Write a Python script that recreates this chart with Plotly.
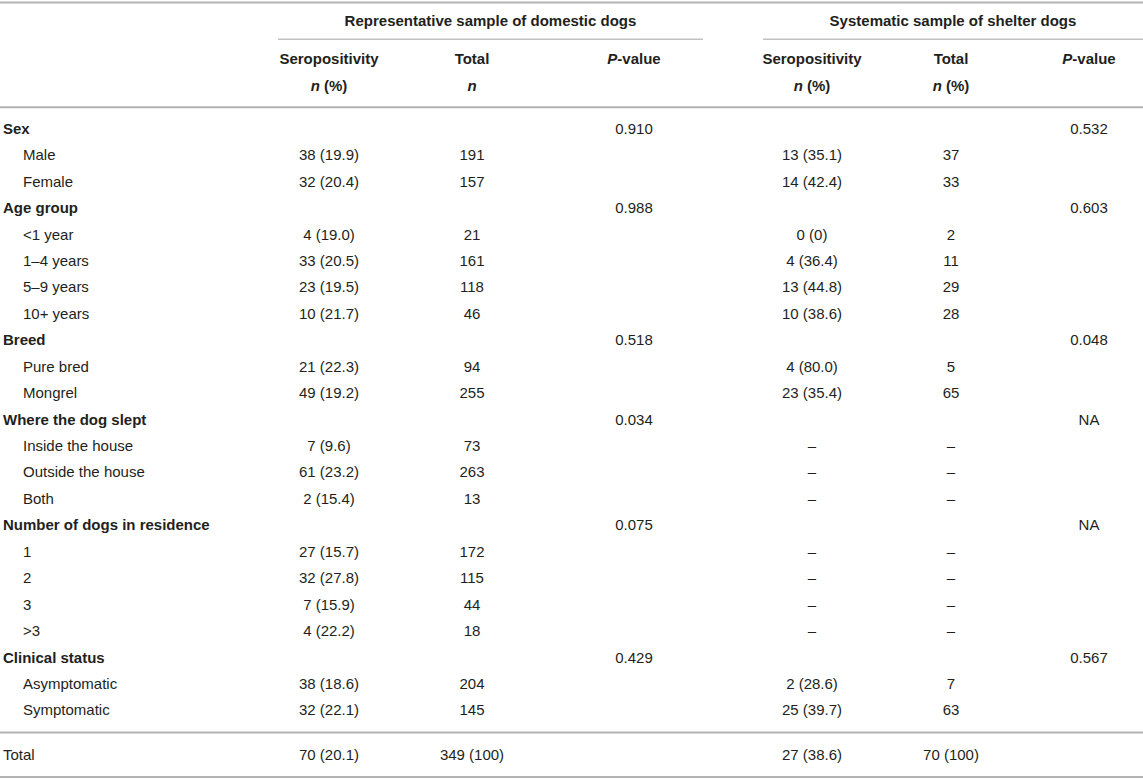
import plotly.graph_objects as go

# ---- table contents ----
row_labels = ["Sex", "Male", "Female", "Age group", "<1 year", "1–4 years", "5–9 years", "10+ years",
              "Breed", "Pure bred", "Mongrel", "Where the dog slept", "Inside the house",
              "Outside the house", "Both", "Number of dogs in residence", "1", "2", "3", ">3",
              "Clinical status", "Asymptomatic", "Symptomatic"]
is_group = [True, False, False, True, False, False, False, False,
            True, False, False, True, False, False, False, True, False, False, False, False,
            True, False, False]

dom_sero = ["", "38 (19.9)", "32 (20.4)", "", "4 (19.0)", "33 (20.5)", "23 (19.5)", "10 (21.7)",
            "", "21 (22.3)", "49 (19.2)", "", "7 (9.6)", "61 (23.2)", "2 (15.4)",
            "", "27 (15.7)", "32 (27.8)", "7 (15.9)", "4 (22.2)", "", "38 (18.6)", "32 (22.1)"]
dom_total = ["", "191", "157", "", "21", "161", "118", "46", "", "94", "255", "", "73", "263", "13",
             "", "172", "115", "44", "18", "", "204", "145"]
dom_p = ["0.910", "", "", "0.988", "", "", "", "", "0.518", "", "", "0.034", "", "", "",
         "0.075", "", "", "", "", "0.429", "", ""]

shel_sero = ["", "13 (35.1)", "14 (42.4)", "", "0 (0)", "4 (36.4)", "13 (44.8)", "10 (38.6)",
             "", "4 (80.0)", "23 (35.4)", "", "–", "–", "–", "", "–", "–", "–", "–",
             "", "2 (28.6)", "25 (39.7)"]
shel_total = ["", "37", "33", "", "2", "11", "29", "28", "", "5", "65", "", "–", "–", "–",
              "", "–", "–", "–", "–", "", "7", "63"]
shel_p = ["0.532", "", "", "0.603", "", "", "", "", "0.048", "", "", "NA", "", "", "",
          "NA", "", "", "", "", "0.567", "", ""]

total_label = "Total"
total_row = ["70 (20.1)", "349 (100)", "", "27 (38.6)", "70 (100)", ""]

group_titles = ["Representative sample of domestic dogs", "Systematic sample of shelter dogs"]
head_top = ["Seropositivity", "Total", "<i>P</i>-value", "Seropositivity", "Total", "<i>P</i>-value"]
head_sub = ["<i>n</i> (%)", "<i>n</i>", "", "<i>n</i> (%)", "<i>n</i> (%)", ""]

# ---- layout (pixels) ----
W, H = 1143, 779
col_x = [329, 472, 634, 812, 951, 1089]
group_span = [(278, 703), (763, 1143)]
row0, row_step = 130, 26.44
row_y = [row0 + row_step * i for i in range(len(row_labels))]
total_y = 756
title_y, head1_y, head2_y = 22.7, 60, 87.3
label_x, indent_x = 3, 23

FONT = "Liberation Sans, Arial, Helvetica, sans-serif"
TXT = "#231f20"
fs = 15

fig = go.Figure()


def add_text(xs, ys, texts, pos="middle center", bold=False):
    if bold:
        texts = ["<b>%s</b>" % t if t else "" for t in texts]
    fig.add_trace(go.Scatter(
        x=xs, y=ys, text=texts, mode="text", textposition=pos,
        textfont=dict(family=FONT, size=fs, color=TXT),
        hoverinfo="skip", showlegend=False, cliponaxis=False))


# row labels
g_y = [y for y, g in zip(row_y, is_group) if g]
g_t = [t for t, g in zip(row_labels, is_group) if g]
i_y = [y for y, g in zip(row_y, is_group) if not g]
i_t = [t for t, g in zip(row_labels, is_group) if not g]
add_text([label_x] * len(g_y), g_y, g_t, pos="middle right", bold=True)
add_text([indent_x] * len(i_y), i_y, i_t, pos="middle right")
add_text([label_x], [total_y], [total_label], pos="middle right")

# body columns
for cx, col in zip(col_x, [dom_sero, dom_total, dom_p, shel_sero, shel_total, shel_p]):
    add_text([cx] * len(row_y), row_y, col)

# total row
add_text(col_x, [total_y] * len(col_x), total_row)

# headers
add_text([(a + b) / 2 for a, b in group_span], [title_y] * 2, group_titles, bold=True)
add_text(col_x, [head1_y] * len(col_x), head_top, bold=True)
add_text(col_x, [head2_y] * len(col_x), head_sub, bold=True)

# rules
rule = dict(color="#b3b3b3", width=2)
for y in [2.5, 107.3, 732.5, 777]:
    fig.add_shape(type="line", x0=0, x1=W, y0=y, y1=y, xref="x", yref="y", line=rule)
for a, b in group_span:
    fig.add_shape(type="line", x0=a, x1=b, y0=39.3, y1=39.3, xref="x", yref="y",
                  line=dict(color="#c2c2c2", width=1.5))

fig.update_xaxes(range=[0, W], visible=False, fixedrange=True)
fig.update_yaxes(range=[H, 0], visible=False, fixedrange=True)
fig.update_layout(width=W, height=H, margin=dict(l=0, r=0, t=0, b=0),
                  paper_bgcolor="white", plot_bgcolor="white", showlegend=False)

fig.write_html("out.html", config={"displayModeBar": False},
               post_script="document.body.style.margin='0';document.body.style.overflow='hidden';")
